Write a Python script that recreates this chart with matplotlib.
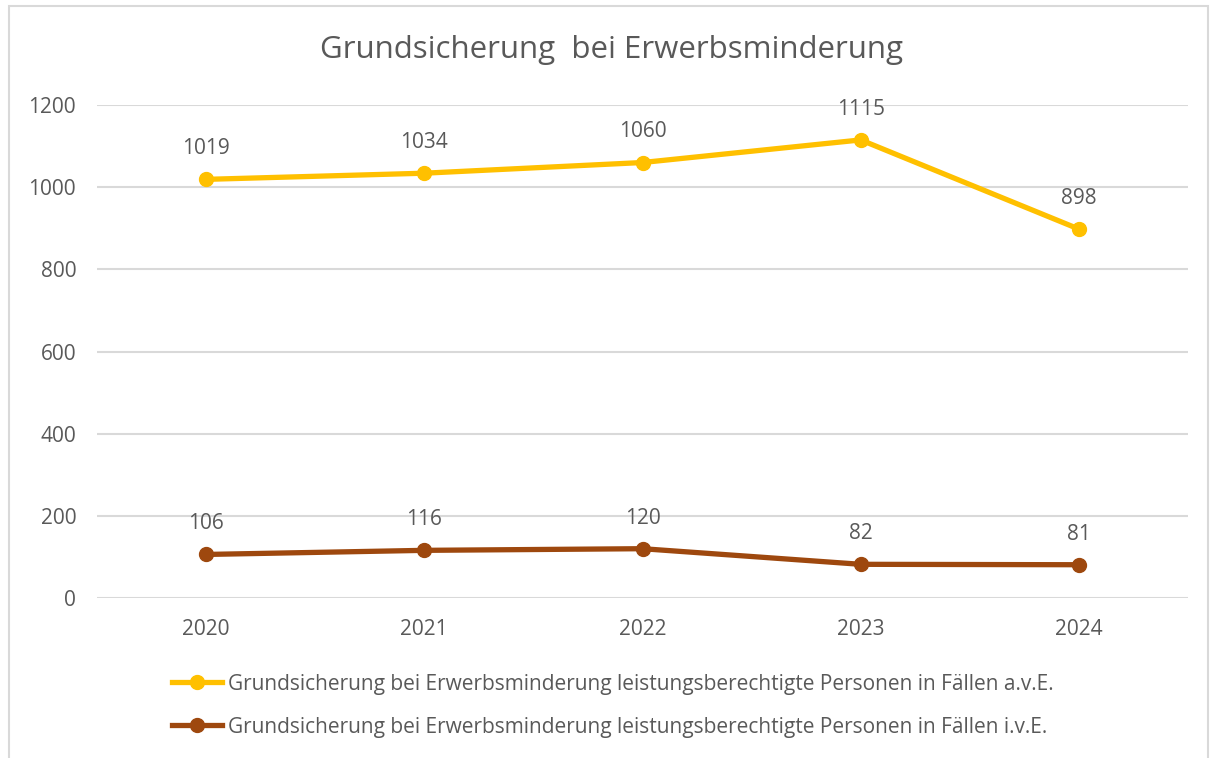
import matplotlib.pyplot as plt
from matplotlib.patches import Rectangle

# data
years = ['2020', '2021', '2022', '2023', '2024']
ave = [1019, 1034, 1060, 1115, 898]
ive = [106, 116, 120, 82, 81]
label_ave = 'Grundsicherung bei Erwerbsminderung leistungsberechtigte Personen in Fällen a.v.E.'
label_ive = 'Grundsicherung bei Erwerbsminderung leistungsberechtigte Personen in Fällen i.v.E.'
yticks = [0, 200, 400, 600, 800, 1000, 1200]

plt.rcParams['font.family'] = ['Open Sans', 'DejaVu Sans']
txt_col = '#595959'

fig = plt.figure(figsize=(12.14, 7.58), dpi=100)
# light chart border
fig.patches.append(Rectangle((9/1214, -0.01), 1199/1214, 1 - 6/758 + 0.01,
                             transform=fig.transFigure, fill=False,
                             edgecolor='#D9D9D9', linewidth=1.5))

ax = fig.add_axes([97/1214, 1 - 598/758, 1091/1214, 493/758])
x = range(len(years))
ax.plot(x, ave, color='#FFC000', lw=3.8, marker='o', ms=10, label=label_ave, zorder=3)
ax.plot(x, ive, color='#9E480E', lw=3.8, marker='o', ms=10, label=label_ive, zorder=3)

for xi, v in zip(x, ave):
    ax.annotate(str(v), (xi, v), xytext=(0, 22), textcoords='offset points',
                ha='center', va='center', fontsize=15, color=txt_col)
for xi, v in zip(x, ive):
    ax.annotate(str(v), (xi, v), xytext=(0, 22), textcoords='offset points',
                ha='center', va='center', fontsize=15, color=txt_col)

ax.set_xlim(-0.5, 4.5)
ax.set_ylim(0, 1200)
ax.set_yticks(yticks)
ax.set_xticks(list(x))
ax.set_xticklabels(years)
ax.grid(axis='y', color='#D9D9D9', lw=1.5)
ax.set_axisbelow(True)
for s in ax.spines.values():
    s.set_visible(False)
ax.tick_params(length=0, labelsize=15, labelcolor=txt_col)
ax.tick_params(axis='y', pad=15)
ax.tick_params(axis='x', pad=15)

fig.text(612/1214, 1 - 50/758, 'Grundsicherung  bei Erwerbsminderung', ha='center', va='center',
         fontsize=22.5, color=txt_col)

fig.legend(loc='upper left', bbox_to_anchor=(153/1214, 1 - 655/758), frameon=False,
           fontsize=15, labelcolor=txt_col, handlelength=2.4, handletextpad=0.3,
           labelspacing=1.05)

fig.savefig('out.png', dpi=100)
